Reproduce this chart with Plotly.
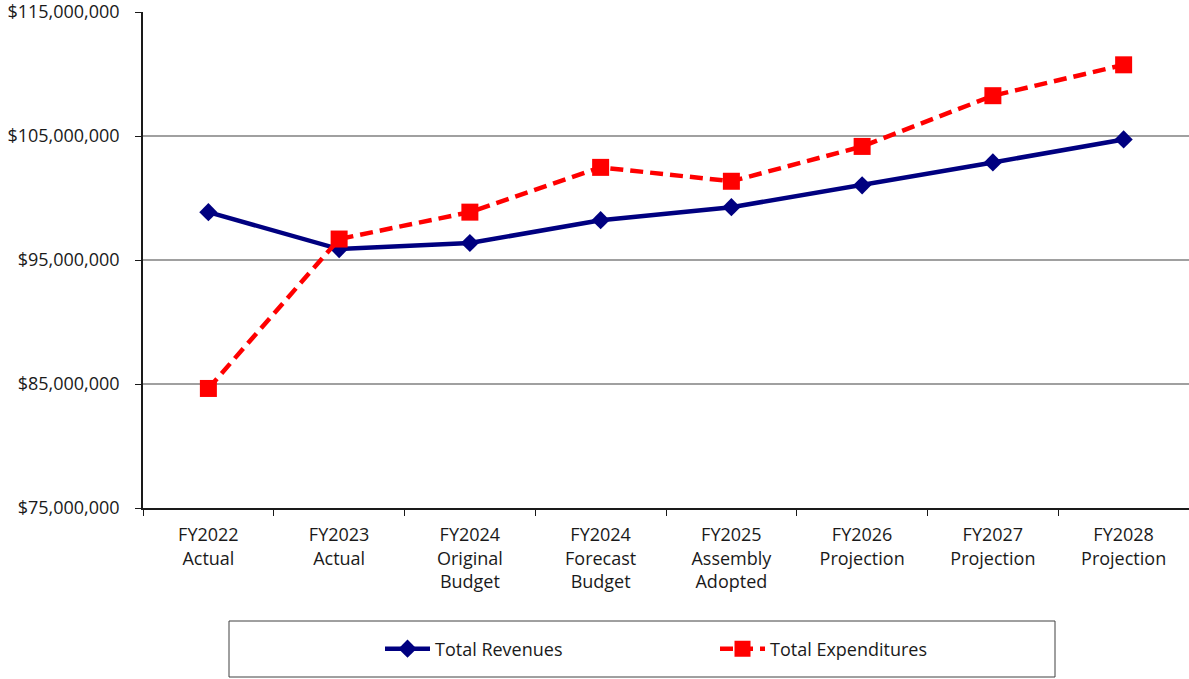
import plotly.graph_objects as go

categories = ["FY2022<br>Actual", "FY2023<br>Actual", "FY2024<br>Original<br>Budget",
              "FY2024<br>Forecast<br>Budget", "FY2025<br>Assembly<br>Adopted",
              "FY2026<br>Projection", "FY2027<br>Projection", "FY2028<br>Projection"]
revenues = [98.86e6, 95.88e6, 96.37e6, 98.21e6, 99.26e6, 101.02e6, 102.87e6, 104.72e6]
expenditures = [84.64e6, 96.69e6, 98.86e6, 102.47e6, 101.35e6, 104.16e6, 108.25e6, 110.74e6]
grid_values = [85e6, 95e6, 105e6]

FONT = "Open Sans, Noto Sans, sans-serif"
TXT = "#1a1a1a"
TOP, BOTTOM = 12, 171
PLOT_H = 679 - TOP - BOTTOM

fig = go.Figure()
fig.add_trace(go.Scatter(
    x=categories, y=revenues, name="Total Revenues", mode="lines+markers",
    line=dict(color="#000080", width=4.5),
    marker=dict(symbol="diamond", size=14, color="#000080"),
))
fig.add_trace(go.Scatter(
    x=categories, y=expenditures, name="Total Expenditures", mode="lines+markers",
    line=dict(color="#FF0000", width=4.5, dash="13px,7px"),
    marker=dict(symbol="square", size=17, color="#FF0000"),
))

for g in grid_values:
    fig.add_shape(type="line", xref="paper", x0=0, x1=1, yref="y", y0=g, y1=g,
                  line=dict(color="#808080", width=1.3), layer="below")

# legend box
fig.add_shape(type="rect", xref="paper", yref="paper",
              x0=(229 - 143) / 1046, x1=(1055 - 143) / 1046,
              y0=(508 - 677) / PLOT_H, y1=(508 - 621) / PLOT_H,
              line=dict(color="#404040", width=1), fillcolor="rgba(0,0,0,0)")

fig.update_layout(
    width=1189, height=679,
    margin=dict(l=143, r=0, t=TOP, b=BOTTOM, autoexpand=False),
    paper_bgcolor="white", plot_bgcolor="white",
    font=dict(family=FONT, size=18, color=TXT),
    showlegend=True,
    legend=dict(orientation="h", x=(380 - 143) / 1046, xanchor="left",
                y=(508 - 649) / PLOT_H, yanchor="middle",
                font=dict(size=18), entrywidth=275, itemwidth=45,
                bgcolor="rgba(0,0,0,0)"),
    xaxis=dict(type="category", range=[-0.5, 7.5], showgrid=False,
               showline=True, linecolor=TXT, linewidth=1.5,
               ticks="outside", tickson="boundaries", ticklen=6, tickcolor=TXT,
               ticklabelstandoff=10, automargin=False,
               tickfont=dict(size=18), fixedrange=True),
    yaxis=dict(range=[75e6, 115e6], dtick=10e6, tick0=75e6, tickformat="$,.0f",
               showgrid=False, showline=True, linecolor=TXT, linewidth=1.5,
               ticks="outside", ticklen=6, tickcolor=TXT,
               ticklabelstandoff=12, ticklabeloverflow="allow", automargin=False,
               tickfont=dict(size=18), zeroline=False, fixedrange=True),
)

fig.write_html("out.html", config={"displayModeBar": False},
               post_script="document.body.style.margin='0';")
